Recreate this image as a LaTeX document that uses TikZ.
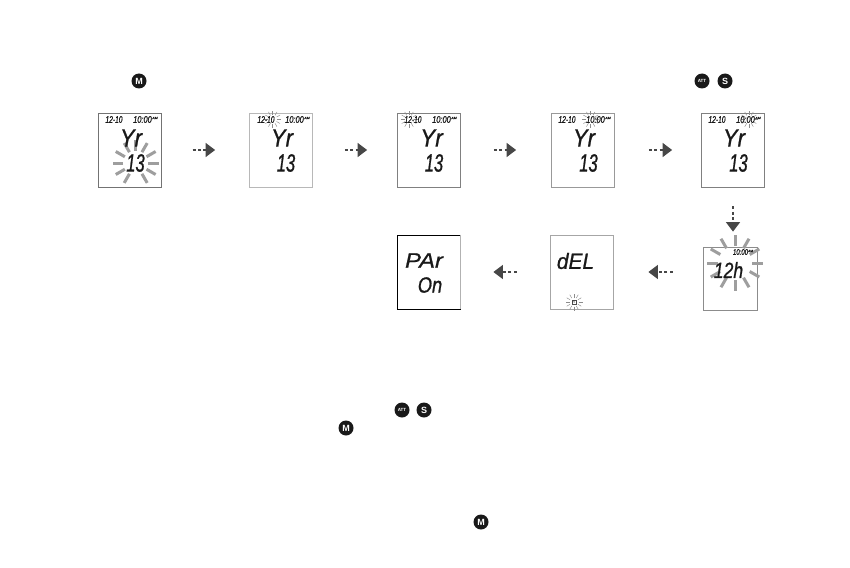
\documentclass[tikz,border=0pt]{standalone}
\usepackage{fontspec}
\setmainfont{Liberation Sans}
\newfontfamily\lcdfont{Liberation Sans Italic}
\usetikzlibrary{arrows.meta}
% name, x, y, font size, horizontal stretch, text
\newcommand{\lcdt}[6]{\node[lcdtxt] (#1) at (#2,#3) {\lcdfont\addfontfeature{FakeStretch=#5,FakeBold=0.8}\fontsize{#4}{#4}\selectfont #6};}
\newcommand{\blinksmall}[2]{\foreach \a in {0,30,...,330}{\draw[smallray] (#1,#2)++(\a:4.5) -- ++(\a:4);}}
\newcommand{\blinkbig}[5]{\foreach \a in {#5}{\draw[bigray] (#1,#2)++(\a:#3) -- ++(\a:#4);}}
\newcommand{\topline}[2]{%
  \lcdt{#1d}{#2}{119.5}{9.5}{.7}{12-10}
  \lcdt{#1t}{\fpeval{#2+28.5}}{119.5}{9.5}{.78}{10:00}
  \lcdt{#1m}{\fpeval{#2+41}}{118}{3.5}{1}{AM}
}
\tikzset{
  x=1pt,y=-1pt,
  lcdbox/.style={draw=#1,line width=.8pt,rectangle,inner sep=0,minimum width=63pt,minimum height=74pt,fill=white},
  lcdtxt/.style={inner sep=0,outer sep=0,text=black!90},
  smallray/.style={draw=black!45,line width=.45pt},
  bigray/.style={draw=black!38,line width=3pt},
  flow/.style={draw=black!72,line width=1.5pt,dash pattern=on 3pt off 2.4pt,-{Triangle[length=9.5pt,width=14pt,fill=black!72]}},
  icon/.style={circle,fill=black!90,inner sep=0,minimum size=15pt,text=white,font=\bfseries\fontsize{9}{9}\selectfont},
  iconsm/.style={icon,font=\bfseries\fontsize{4.5}{4.5}\selectfont},
}
\begin{document}
\begin{tikzpicture}
\useasboundingbox[fill=white] (0,0) rectangle (850,567);
% screens
\node[lcdbox=black!55] (b1) at (129.7,150) {};
\node[lcdbox=black!28] (b2) at (281,150) {};
\node[lcdbox=black!50] (b3) at (429,150) {};
\node[lcdbox=black!40] (b4) at (583,150) {};
\node[lcdbox=black!50] (b5) at (733,150) {};
\node[lcdbox=black!45,minimum width=54pt,minimum height=63pt] (b6) at (730,278.5) {};
\node[lcdbox=black!35] (b7) at (581.5,272) {};
\node[lcdbox=black] (b8) at (428.5,272) {};
\draw[black!30,line width=.8pt] (b8.north east) -- (b8.south east);
% blinking marks
\blinkbig{135.7}{163}{12.5}{10.5}{0,30,60,120,150,180,210,240,270,300,330}
\blinkbig{735}{263}{17}{11}{0,30,...,330}
\blinksmall{272.7}{119.3}
\blinksmall{409}{119.3}
\blinksmall{590.7}{119.3}
\blinksmall{749}{119.3}
\blinksmall{574}{302}
% texts
\topline{p}{114}
\topline{q}{266}
\topline{r}{413}
\topline{s}{567}
\topline{u}{717}
\lcdt{y1}{131}{138}{25}{.88}{Yr}
\lcdt{n1}{135.5}{163}{25}{.66}{13}
\lcdt{y2}{282}{138}{25}{.88}{Yr}
\lcdt{n2}{286}{163}{25}{.66}{13}
\lcdt{y3}{431.5}{138}{25}{.9}{Yr}
\lcdt{n3}{434}{163}{25}{.66}{13}
\lcdt{y4}{584}{138}{25}{.88}{Yr}
\lcdt{n4}{588.5}{163}{25}{.66}{13}
\lcdt{y5}{734}{138}{25}{.88}{Yr}
\lcdt{n5}{738.5}{163}{25}{.66}{13}
\lcdt{h6}{728.5}{270}{22}{.8}{12h}
\lcdt{t6}{740.5}{252}{8}{.75}{10:00}
\lcdt{m6}{750.5}{251}{3.2}{1}{AM}
\lcdt{d7}{575.5}{261}{22}{.95}{dEL}
\node[draw=black!70,line width=.4pt,inner sep=.6pt,text=black!80,font=\fontsize{3.5}{3.5}\selectfont] (k7) at (574,302) {R};
\lcdt{p8}{424}{260.5}{21}{1.13}{PAr}
\lcdt{o8}{430}{285}{22}{.83}{On}
% connectors
\draw[flow,shorten <=31pt,shorten >=34pt] (b1.east) -- (b2.west);
\draw[flow,shorten <=32pt,shorten >=30pt] (b2.east) -- (b3.west);
\draw[flow,shorten <=33pt,shorten >=35pt] (b3.east) -- (b4.west);
\draw[flow,shorten <=34pt,shorten >=29pt] (b4.east) -- (b5.west);
\draw[flow,shorten <=19pt,shorten >=15pt] (b5.south) -- (b5.south |- b6.north);
\draw[flow,shorten <=30pt,shorten >=35pt] (b6.west |- b7.east) -- (b7.east);
\draw[flow,shorten <=33pt,shorten >=33pt] (b7.west) -- (b8.east);
% icons
\node[icon] (m1) at (139,81) {M};
\node[iconsm] (a1) at (702,81) {ATT};
\node[icon] (s1) at (725,81) {S};
\node[iconsm] (a2) at (402,410) {ATT};
\node[icon] (s2) at (424,410) {S};
\node[icon] (m2) at (346,428) {M};
\node[icon] (m3) at (481,522) {M};
\end{tikzpicture}
\end{document}
